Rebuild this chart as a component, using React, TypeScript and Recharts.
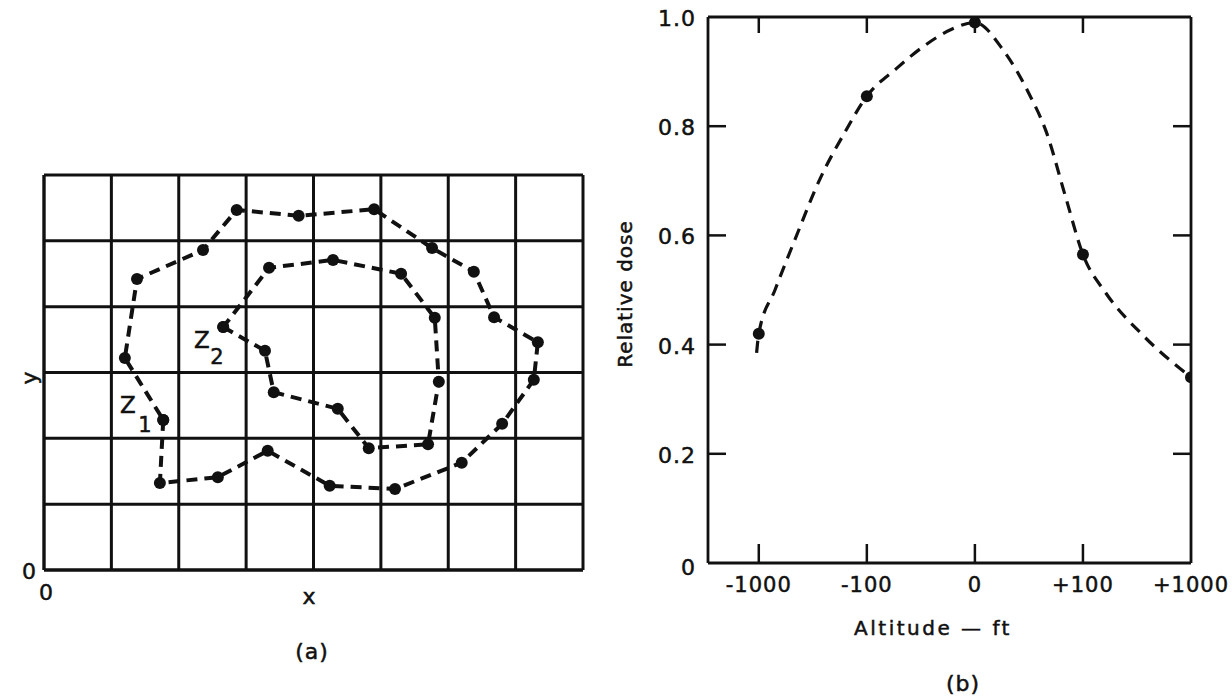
import React from 'react';
import { ComposedChart, Line, XAxis, YAxis, CartesianGrid } from 'recharts';

// ---------- Panel (a) data: grid coordinates (x 0..8, y 0..6) ----------
const gridXTicks = [0, 1, 2, 3, 4, 5, 6, 7, 8];
const gridYTicks = [0, 1, 2, 3, 4, 5, 6];

const z1X = [1.77, 1.72, 2.58, 3.32, 4.24, 5.21, 6.2, 6.8, 7.27, 7.33, 6.68, 6.38, 5.76, 4.9, 3.78, 2.86, 2.36, 1.38, 1.2];
const z1Y = [2.28, 1.32, 1.41, 1.81, 1.28, 1.23, 1.63, 2.22, 2.89, 3.46, 3.84, 4.53, 4.89, 5.48, 5.38, 5.47, 4.86, 4.42, 3.22];

const z2X = [2.66, 3.28, 3.41, 4.36, 4.82, 5.7, 5.86, 5.8, 5.3, 4.29, 3.34];
const z2Y = [3.69, 3.33, 2.7, 2.45, 1.85, 1.91, 2.86, 3.83, 4.5, 4.71, 4.59];

// ---------- Panel (b) data ----------
const altitudeLabels = ['-1000', '-100', '0', '+100', '+1000'];
const altitudeIndex = [0, 1, 2, 3, 4];
const relativeDose = [0.42, 0.855, 0.99, 0.565, 0.34];
// dashed fitted curve, positions
const curveX = [-0.02, 0, 0.15, 0.34, 0.57, 0.8, 1, 1.27, 1.53, 1.79, 2, 2.26, 2.5, 2.66, 2.84, 3, 3.21, 3.55, 4];
const curveY = [0.385, 0.42, 0.5, 0.595, 0.705, 0.79, 0.855, 0.905, 0.947, 0.978, 0.99, 0.94, 0.86, 0.79, 0.67, 0.565, 0.495, 0.418, 0.34];
const doseTicks = [0, 0.2, 0.4, 0.6, 0.8, 1.0];

const closed = (xs: number[], ys: number[]) => {
  const pts = xs.map((x, i) => ({ x, y: ys[i] }));
  return [...pts, pts[0]];
};
const z1Data = closed(z1X, z1Y);
const z2Data = closed(z2X, z2Y);
const markerData = altitudeIndex.map((x, i) => ({ x, y: relativeDose[i] }));
const curveData = curveX.map((x, i) => ({ x, y: curveY[i] }));

const FONT = '"DejaVu Sans", sans-serif';
const INK = '#111';
const TXT = { fontFamily: FONT, fill: INK, stroke: INK, strokeWidth: 0.5 };

// ---------- tick renderers ----------
const GridXTick = (p: any) =>
  p.payload.value === 0 ? (
    <text x={p.x + 2} y={p.y + 30} textAnchor="middle" fontSize={22} {...TXT}>0</text>
  ) : <g />;

const GridYTick = (p: any) =>
  p.payload.value === 0 ? (
    <text x={p.x - 8} y={p.y + 1} dy="0.36em" textAnchor="end" fontSize={22} {...TXT}>0</text>
  ) : <g />;

const BottomTick = (p: any) => {
  const i = p.payload.value;
  return (
    <g>
      {i < 4 && <line x1={p.x} y1={p.y} x2={p.x} y2={p.y - 19} stroke={INK} strokeWidth={2.5} />}
      <text x={p.x} y={p.y + 29} textAnchor="middle" fontSize={21} letterSpacing={1} {...TXT}>
        {altitudeLabels[i]}
      </text>
    </g>
  );
};

const TopTick = (p: any) => {
  const i = p.payload.value;
  return i < 4 ? <line x1={p.x} y1={p.y} x2={p.x} y2={p.y + 16} stroke={INK} strokeWidth={2.5} /> : <g />;
};

const LeftTick = (p: any) => {
  const v = p.payload.value;
  const inner = v > 0.01 && v < 0.99;
  return (
    <g>
      {inner && <line x1={p.x} y1={p.y} x2={p.x + 18} y2={p.y} stroke={INK} strokeWidth={2.5} />}
      <text x={p.x - 12} y={p.y + (v === 0 ? 4 : 1)} dy="0.36em" textAnchor="end" fontSize={22} letterSpacing={1} {...TXT}>
        {v === 0 ? '0' : v.toFixed(1)}
      </text>
    </g>
  );
};

const RightTick = (p: any) => {
  const v = p.payload.value;
  const inner = v > 0.01 && v < 0.99;
  return inner ? <line x1={p.x} y1={p.y} x2={p.x - 18} y2={p.y} stroke={INK} strokeWidth={2.5} /> : <g />;
};

const frame = { stroke: INK, strokeWidth: 2.8 };
const dotStyle = { r: 6, fill: INK, stroke: 'none', strokeDasharray: '' };

export default function App() {
  return (
    <div style={{ position: 'absolute', left: 0, top: 0, width: 1232, height: 698, background: '#fff', overflow: 'hidden' }}>
      {/* Panel (a) */}
      <div style={{ position: 'absolute', left: 0, top: 0 }}>
        <ComposedChart width={600} height={698} margin={{ top: 175, right: 17, bottom: 68, left: 14 }}>
          <CartesianGrid stroke={INK} strokeWidth={3} horizontal vertical />
          <XAxis
            type="number"
            dataKey="x"
            domain={[0, 8]}
            ticks={gridXTicks}
            interval={0}
            height={60}
            tickSize={0}
            tickMargin={0}
            tickLine={false}
            axisLine={frame}
            tick={GridXTick}
            allowDataOverflow
          />
          <YAxis
            type="number"
            dataKey="y"
            domain={[0, 6]}
            ticks={gridYTicks}
            interval={0}
            width={30}
            tickSize={0}
            tickMargin={0}
            tickLine={false}
            axisLine={frame}
            tick={GridYTick}
            allowDataOverflow
          />
          <Line data={z1Data} dataKey="y" type="linear" stroke={INK} strokeWidth={4} strokeDasharray="11 7" dot={dotStyle} activeDot={false} isAnimationActive={false} />
          <Line data={z2Data} dataKey="y" type="linear" stroke={INK} strokeWidth={4} strokeDasharray="11 7" dot={dotStyle} activeDot={false} isAnimationActive={false} />
        </ComposedChart>
      </div>

      {/* Panel (b) */}
      <div style={{ position: 'absolute', left: 600, top: 0 }}>
        <ComposedChart width={632} height={698} margin={{ top: 16, right: 40, bottom: 75, left: 48 }}>
          <XAxis
            xAxisId="b"
            type="number"
            dataKey="x"
            domain={[-0.47, 4]}
            ticks={altitudeIndex}
            interval={0}
            height={60}
            tickSize={0}
            tickMargin={0}
            tickLine={false}
            axisLine={frame}
            tick={BottomTick}
            allowDataOverflow
          />
          <XAxis
            xAxisId="t"
            orientation="top"
            type="number"
            dataKey="x"
            domain={[-0.47, 4]}
            ticks={altitudeIndex}
            interval={0}
            height={1}
            tickSize={0}
            tickMargin={0}
            tickLine={false}
            axisLine={frame}
            tick={TopTick}
            allowDataOverflow
          />
          <YAxis
            yAxisId="l"
            type="number"
            domain={[0, 1]}
            ticks={doseTicks}
            interval={0}
            width={60}
            tickSize={0}
            tickMargin={0}
            tickLine={false}
            axisLine={frame}
            tick={LeftTick}
            allowDataOverflow
          />
          <YAxis
            yAxisId="r"
            orientation="right"
            type="number"
            domain={[0, 1]}
            ticks={doseTicks}
            interval={0}
            width={1}
            tickSize={0}
            tickMargin={0}
            tickLine={false}
            axisLine={frame}
            tick={RightTick}
            allowDataOverflow
          />
          <Line xAxisId="b" yAxisId="l" data={curveData} dataKey="y" type="monotone" stroke={INK} strokeWidth={3.2} strokeDasharray="12 8" dot={false} activeDot={false} isAnimationActive={false} />
          <Line xAxisId="b" yAxisId="l" data={markerData} dataKey="y" type="linear" stroke="none" strokeWidth={0} dot={dotStyle} activeDot={false} isAnimationActive={false} />
        </ComposedChart>
      </div>

      {/* Annotation text */}
      <svg width={1232} height={698} style={{ position: 'absolute', left: 0, top: 0, pointerEvents: 'none' }}>
        <g fontFamily={FONT} fill={INK} stroke={INK} strokeWidth={0.5}>
          <text x={128} y={405} dy="0.36em" textAnchor="middle" fontSize={23}>Z</text>
          <text x={145} y={424} dy="0.36em" textAnchor="middle" fontSize={21}>1</text>
          <text x={202} y={340} dy="0.36em" textAnchor="middle" fontSize={23}>Z</text>
          <text x={217} y={356} dy="0.36em" textAnchor="middle" fontSize={21}>2</text>
          <text x={309} y={596} dy="0.36em" textAnchor="middle" fontSize={22}>x</text>
          <text x={30} y={378} dy="0.3em" textAnchor="middle" fontSize={22} transform="rotate(-90 30 378)">y</text>
          <text x={312} y={651} dy="0.36em" textAnchor="middle" fontSize={22} letterSpacing={1}>(a)</text>
          <text x={625} y={294} dy="0.36em" textAnchor="middle" fontSize={20} letterSpacing={1} transform="rotate(-90 625 294)">Relative dose</text>
          <text x={933} y={635} textAnchor="middle" fontSize={20} letterSpacing={2.5}>Altitude — ft</text>
          <text x={963} y={683} dy="0.36em" textAnchor="middle" fontSize={22} letterSpacing={1}>(b)</text>
        </g>
      </svg>
    </div>
  );
}
